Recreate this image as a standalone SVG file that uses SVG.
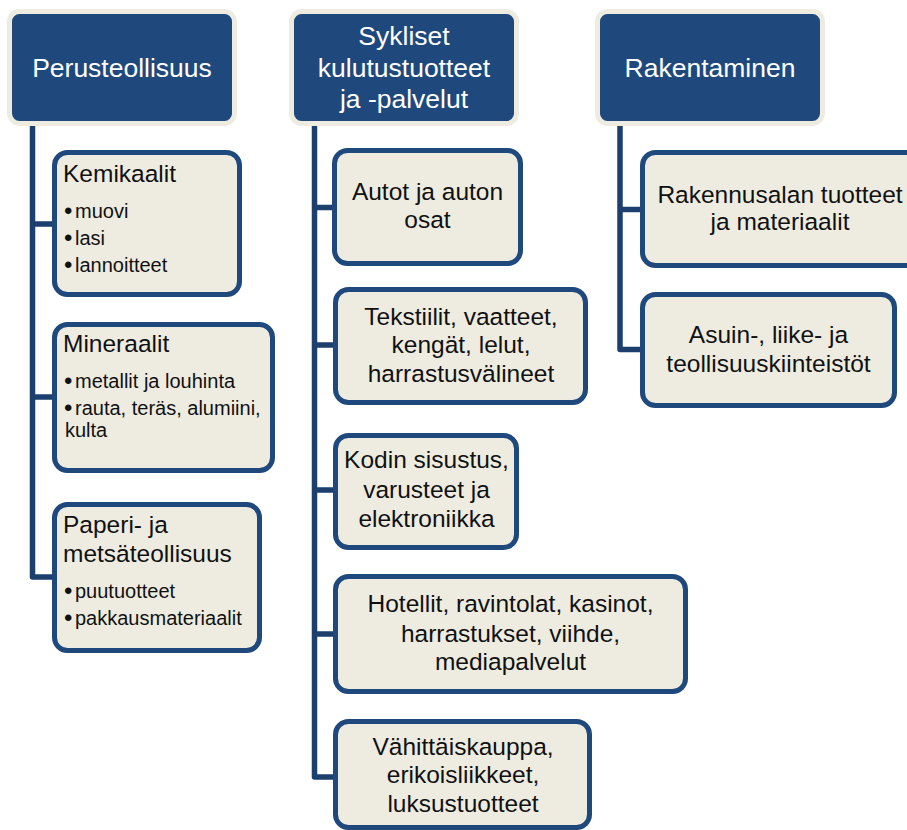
<svg xmlns="http://www.w3.org/2000/svg" width="907" height="830" viewBox="0 0 907 830">
<style>
.hdr{fill:#1f497d;stroke:#eeece1;stroke-width:5}
.box{fill:#eeece1;stroke:#1f497d;stroke-width:5}
.ht{font-family:"Liberation Sans",Arial,sans-serif;font-size:26.5px;fill:#ffffff;text-anchor:middle}
.bt{font-family:"Liberation Sans",Arial,sans-serif;font-size:24.5px;fill:#111111;text-anchor:middle}
.lt{font-family:"Liberation Sans",Arial,sans-serif;font-size:24.5px;fill:#111111}
.bl{font-family:"Liberation Sans",Arial,sans-serif;font-size:20px;fill:#111111}
.dot{font-family:"Liberation Sans",Arial,sans-serif;font-size:24px;fill:#111111}
.con{fill:none;stroke:#1c3f6e;stroke-width:5.5;stroke-linejoin:round}
</style>
<rect width="907" height="830" fill="#ffffff"/>
<g id="connectors">
<path class="con" d="M32.5,126 V577 H55 M32.5,224 H55 M32.5,397 H55"/>
<path class="con" d="M314.5,126 V777 H336 M314.5,207.5 H336 M314.5,345 H336 M314.5,490 H336 M314.5,634 H336"/>
<path class="con" d="M620,126 V349.5 H643 M620,209.5 H643"/>
</g>
<g id="perusteollisuus">
<rect class="hdr" x="9.5" y="11.5" width="225" height="112" rx="10"/>
<text class="ht" x="122" y="77">Perusteollisuus</text>
</g>
<g id="sykliset">
<rect class="hdr" x="291.5" y="11.5" width="225" height="112" rx="10"/>
<text class="ht" x="404" y="45">Sykliset</text>
<text class="ht" x="404" y="77">kulutustuotteet</text>
<text class="ht" x="404" y="108">ja -palvelut</text>
</g>
<g id="rakentaminen">
<rect class="hdr" x="597.5" y="11.5" width="225" height="112" rx="10"/>
<text class="ht" x="710" y="77">Rakentaminen</text>
</g>
<g id="kemikaalit">
<rect class="box" x="54.5" y="152.5" width="185" height="142" rx="13"/>
<text class="lt" x="63" y="182">Kemikaalit</text>
<text class="dot" x="64" y="219">•</text><text class="bl" x="75" y="218">muovi</text>
<text class="dot" x="64" y="246">•</text><text class="bl" x="75" y="245">lasi</text>
<text class="dot" x="64" y="273">•</text><text class="bl" x="75" y="272">lannoitteet</text>
</g>
<g id="mineraalit">
<rect class="box" x="54.5" y="324.5" width="218" height="146" rx="13"/>
<text class="lt" x="63" y="352">Mineraalit</text>
<text class="dot" x="64" y="389">•</text><text class="bl" x="75" y="388">metallit ja louhinta</text>
<text class="dot" x="64" y="416">•</text><text class="bl" x="75" y="415">rauta, teräs, alumiini,</text>
<text class="bl" x="65" y="437">kulta</text>
</g>
<g id="paperi">
<rect class="box" x="54.5" y="504.5" width="205" height="146" rx="13"/>
<text class="lt" x="63" y="533">Paperi- ja</text>
<text class="lt" x="63" y="562">metsäteollisuus</text>
<text class="dot" x="64" y="599">•</text><text class="bl" x="75" y="598">puutuotteet</text>
<text class="dot" x="64" y="626">•</text><text class="bl" x="75" y="625">pakkausmateriaalit</text>
</g>
<g id="autot">
<rect class="box" x="334.5" y="150.5" width="186" height="113" rx="13"/>
<text class="bt" x="427.5" y="200">Autot ja auton</text>
<text class="bt" x="427.5" y="228">osat</text>
</g>
<g id="tekstiilit">
<rect class="box" x="335.5" y="289.5" width="250" height="113" rx="13"/>
<text class="bt" x="461" y="325">Tekstiilit, vaatteet,</text>
<text class="bt" x="461" y="353">kengät, lelut,</text>
<text class="bt" x="461" y="382">harrastusvälineet</text>
</g>
<g id="kodin">
<rect class="box" x="335.5" y="435.5" width="181" height="112" rx="13"/>
<text class="bt" x="426.5" y="468">Kodin sisustus,</text>
<text class="bt" x="426.5" y="498">varusteet ja</text>
<text class="bt" x="426.5" y="527">elektroniikka</text>
</g>
<g id="hotellit">
<rect class="box" x="335.5" y="576.5" width="350" height="115" rx="13"/>
<text class="bt" x="510.5" y="612">Hotellit, ravintolat, kasinot,</text>
<text class="bt" x="510.5" y="642">harrastukset, viihde,</text>
<text class="bt" x="510.5" y="670">mediapalvelut</text>
</g>
<g id="vahittaiskauppa">
<rect class="box" x="335.5" y="721.5" width="254" height="106" rx="13"/>
<text class="bt" x="463" y="755">Vähittäiskauppa,</text>
<text class="bt" x="463" y="783">erikoisliikkeet,</text>
<text class="bt" x="463" y="812">luksustuotteet</text>
</g>
<g id="rakennusalan">
<rect class="box" x="642.5" y="152.5" width="278" height="113" rx="13"/>
<text class="bt" x="780" y="203">Rakennusalan tuotteet</text>
<text class="bt" x="780" y="230">ja materiaalit</text>
</g>
<g id="asuin">
<rect class="box" x="642.5" y="294.5" width="252" height="111" rx="13"/>
<text class="bt" x="768.5" y="343">Asuin-, liike- ja</text>
<text class="bt" x="768.5" y="372">teollisuuskiinteistöt</text>
</g>
</svg>
